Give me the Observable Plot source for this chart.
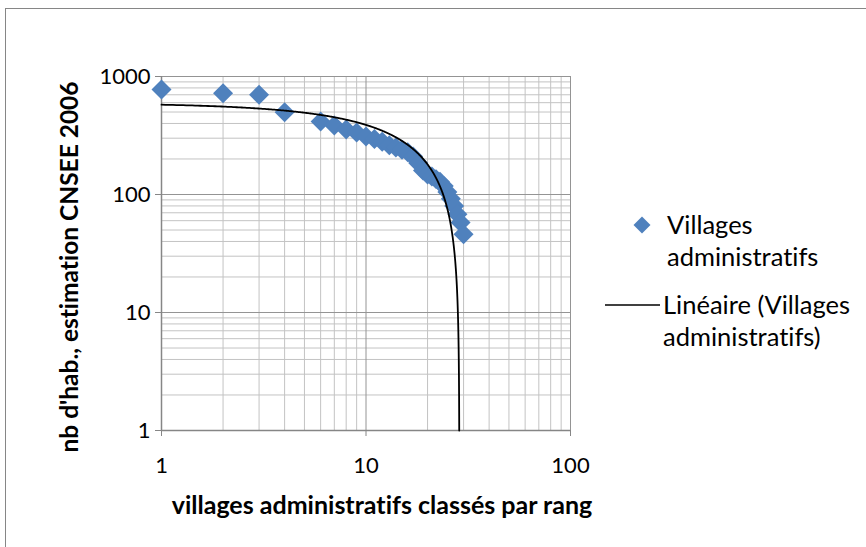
<!DOCTYPE html>
<html>
<head>
<meta charset="utf-8">
<script src="https://cdn.jsdelivr.net/npm/d3@7"></script>
<script src="https://cdn.jsdelivr.net/npm/@observablehq/plot@0.6"></script>
<style>
  html, body { margin: 0; padding: 0; background: #fff; }
  #chart { width: 866px; height: 547px; }
  svg text { font-variant-ligatures: none; font-feature-settings: "liga" 0; }
  #chart svg [aria-label$="tick label"] { font-size: 22px; }
</style>
</head>
<body>
<div id="chart"></div>
<script>
// ---- data ----
const ranks = [1, 2, 3, 4, 6, 7, 8, 9, 10, 11, 12, 13, 14, 15, 16, 17, 18, 19, 20, 21, 22, 23, 24, 25, 26, 27, 28, 29, 30];
const habitants = [776, 722, 700, 498, 415, 384, 355, 335, 310, 295, 280, 262, 250, 240, 228, 210, 185, 160, 148, 142, 135, 128, 118, 105, 92, 80, 68, 58, 46];
const xTicks = [1, 10, 100];
const yTicks = [1, 10, 100, 1000];
const legendSeries = ["Villages", "administratifs"];
const legendTrend = ["Linéaire (Villages", "administratifs)"];
const xTitle = "villages administratifs classés par rang";
const yTitle = "nb d'hab., estimation CNSEE 2006";

const points = ranks.map((r, i) => ({rank: r, pop: habitants[i]}));

// least-squares linear trend (y = a + b x), as the spreadsheet computes it
const mx = d3.mean(points, d => d.rank);
const my = d3.mean(points, d => d.pop);
const b = d3.sum(points, d => (d.rank - mx) * (d.pop - my)) / d3.sum(points, d => (d.rank - mx) ** 2);
const a = my - b * mx;
const xEnd = (1 - a) / b; // where the trend reaches the bottom of the log axis (y = 1)
const trend = d3.range(0, 601).map(i => {
  const x = 1 + (xEnd - 1) * i / 600;
  return {x, y: Math.max(1, a + b * x)};
});

// minor grid positions (2..9 in each decade)
const minorX = xTicks.slice(0, -1).flatMap(d => d3.range(2, 10).map(k => k * d));
const minorY = yTicks.slice(0, -1).flatMap(d => d3.range(2, 10).map(k => k * d));

const blue = "#4F81BD";

const chart = Plot.plot({
  width: 866,
  height: 547,
  marginLeft: 161,
  marginRight: 296,
  marginTop: 76,
  marginBottom: 117,
  x: {type: "log", domain: [1, 100]},
  y: {type: "log", domain: [1, 1000]},
  style: {fontFamily: "Lato, sans-serif", fontSize: "20px", background: "#fff", color: "#000"},
  marks: [
    Plot.gridX(minorX, {stroke: "#c3c3c3", strokeOpacity: 1, strokeWidth: 1}),
    Plot.gridY(minorY, {stroke: "#c3c3c3", strokeOpacity: 1, strokeWidth: 1}),
    Plot.gridX(xTicks, {stroke: "#949494", strokeOpacity: 1, strokeWidth: 1}),
    Plot.gridY(yTicks, {stroke: "#949494", strokeOpacity: 1, strokeWidth: 1}),
    Plot.ruleX([1], {stroke: "#868686", strokeWidth: 1.5}),
    Plot.ruleY([1], {stroke: "#868686", strokeWidth: 1.5}),
    Plot.axisX(xTicks, {tickFormat: d => String(d), tickSize: 6, tickPadding: 21, stroke: "#868686", label: null}),
    Plot.axisY(yTicks, {tickFormat: d => String(d), tickSize: 6, tickPadding: 5, stroke: "#868686", label: null}),
    Plot.dot(points, {x: "rank", y: "pop", symbol: "diamond2", r: 9, fill: blue, stroke: "none"}),
    Plot.line(trend, {x: "x", y: "y", stroke: "#000", strokeWidth: 1.8})
  ]
});

const svg = d3.select(chart);

// outer chart border
svg.insert("rect", ":first-child")
  .attr("x", 5.5).attr("y", 8.5).attr("width", 900).attr("height", 600)
  .attr("fill", "none").attr("stroke", "#868686").attr("stroke-width", 1);

// axis titles
svg.append("text")
  .attr("x", 382).attr("y", 514)
  .attr("text-anchor", "middle")
  .attr("font-family", "Lato, sans-serif").attr("font-weight", "bold").attr("font-size", 25)
  .attr("fill", "#000")
  .text(xTitle);

svg.append("text")
  .attr("transform", "translate(78,267) rotate(-90)")
  .attr("text-anchor", "middle")
  .attr("font-family", "Lato, sans-serif").attr("font-weight", "bold").attr("font-size", 24.5)
  .attr("fill", "#000")
  .text(yTitle);

// legend
const lg = svg.append("g")
  .attr("font-family", "Lato, sans-serif").attr("font-size", 25.5)
  .attr("fill", "#000").attr("text-anchor", "start");
lg.append("path")
  .attr("transform", "translate(642,225)")
  .attr("d", d3.symbol(d3.symbolDiamond2, 184)())
  .attr("fill", blue);
lg.append("text").attr("x", 667).attr("y", 234).text(legendSeries[0]);
lg.append("text").attr("x", 667).attr("y", 266).text(legendSeries[1]);
lg.append("line")
  .attr("x1", 605).attr("x2", 660).attr("y1", 305).attr("y2", 305)
  .attr("stroke", "#000").attr("stroke-width", 1.5);
lg.append("text").attr("x", 663).attr("y", 314).text(legendTrend[0]);
lg.append("text").attr("x", 663).attr("y", 346).text(legendTrend[1]);

document.getElementById("chart").appendChild(chart);
</script>
</body>
</html>
